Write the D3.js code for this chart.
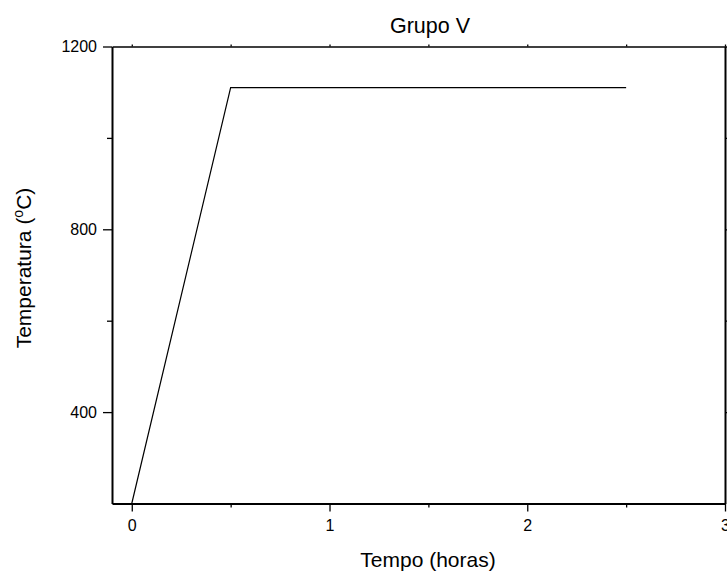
<!DOCTYPE html>
<html>
<head>
<meta charset="utf-8">
<script src="https://cdn.jsdelivr.net/npm/d3@7"></script>
<style>
  html, body { margin: 0; padding: 0; background: #fff; }
  svg { display: block; }
  text { font-family: "Liberation Sans", Arial, sans-serif; fill: #000; }
</style>
</head>
<body>
<svg id="chart" width="727" height="572"></svg>
<script>
// Data
const timeHours = [0, 0.5, 2.5];
const temperature = [200, 1110, 1110];
const xMajorTicks = [0, 1, 2, 3];
const xMinorTicks = [0.5, 1.5, 2.5];
const yMajorTicks = [400, 800, 1200];
const yMinorTicks = [600, 1000];
const titleText = "Grupo V";
const xLabel = "Tempo (horas)";

(function () {
const svg = d3.select("#chart");
const mLeft = 112, mRight = 725, mTop = 46.5, mBottom = 503.5;

const x = d3.scaleLinear().domain([-0.1, 3]).range([mLeft, mRight]);
const y = d3.scaleLinear().domain([200, 1200]).range([mBottom, mTop]);

const bottomMajor = d3.axisBottom(x).tickValues(xMajorTicks).tickSize(8).tickSizeOuter(0).tickPadding(8).tickFormat(d3.format("d"));
const bottomMinor = d3.axisBottom(x).tickValues(xMinorTicks).tickSize(4).tickFormat("");
const leftMajor = d3.axisLeft(y).tickValues(yMajorTicks).tickSize(9).tickSizeOuter(0).tickPadding(6).tickFormat(d3.format("d"));
const leftMinor = d3.axisLeft(y).tickValues(yMinorTicks).tickSize(5).tickFormat("");
const topAx = d3.axisTop(x).tickValues(xMajorTicks.concat(xMinorTicks)).tickSize(2).tickSizeOuter(0).tickFormat("");
const rightAx = d3.axisRight(y).tickValues(yMajorTicks.concat(yMinorTicks)).tickSize(2).tickSizeOuter(0).tickFormat("");

function style(g, w) {
  g.select(".domain").attr("stroke", "#000").attr("stroke-width", w);
  g.selectAll(".tick line").attr("stroke", "#000").attr("stroke-width", 1.3);
  g.selectAll(".tick text").attr("font-size", 16).attr("font-family", "Liberation Sans, Arial, sans-serif").attr("fill", "#000");
}

svg.append("g").attr("transform", `translate(0,${mBottom})`).call(bottomMinor).call(g => { style(g, 2); g.select(".domain").remove(); });
svg.append("g").attr("transform", `translate(0,${mBottom})`).call(bottomMajor).call(g => style(g, 2));
svg.append("g").attr("transform", `translate(${mLeft},0)`).call(leftMinor).call(g => { style(g, 2); g.select(".domain").remove(); });
svg.append("g").attr("transform", `translate(${mLeft},0)`).call(leftMajor).call(g => style(g, 2));
svg.append("g").attr("transform", `translate(0,${mTop})`).call(topAx).call(g => style(g, 1.5));
svg.append("g").attr("transform", `translate(${mRight},0)`).call(rightAx).call(g => style(g, 2));

const line = d3.line().x((d, i) => x(timeHours[i])).y((d, i) => y(temperature[i]));
svg.append("path")
  .datum(temperature)
  .attr("d", line)
  .attr("fill", "none")
  .attr("stroke", "#000")
  .attr("stroke-width", 1.2);

svg.append("text")
  .attr("x", 430)
  .attr("y", 33)
  .attr("text-anchor", "middle")
  .attr("font-size", 21.5)
  .text(titleText);

svg.append("text")
  .attr("x", 428)
  .attr("y", 567)
  .attr("text-anchor", "middle")
  .attr("font-size", 21)
  .text(xLabel);

const yl = svg.append("text")
  .attr("transform", `translate(31,268) rotate(-90)`)
  .attr("text-anchor", "middle")
  .attr("font-size", 21);
yl.append("tspan").text("Temperatura (");
yl.append("tspan").attr("font-size", 14).attr("dy", -8).text("o");
yl.append("tspan").attr("dy", 8).text("C)");
})();
</script>
</body>
</html>
